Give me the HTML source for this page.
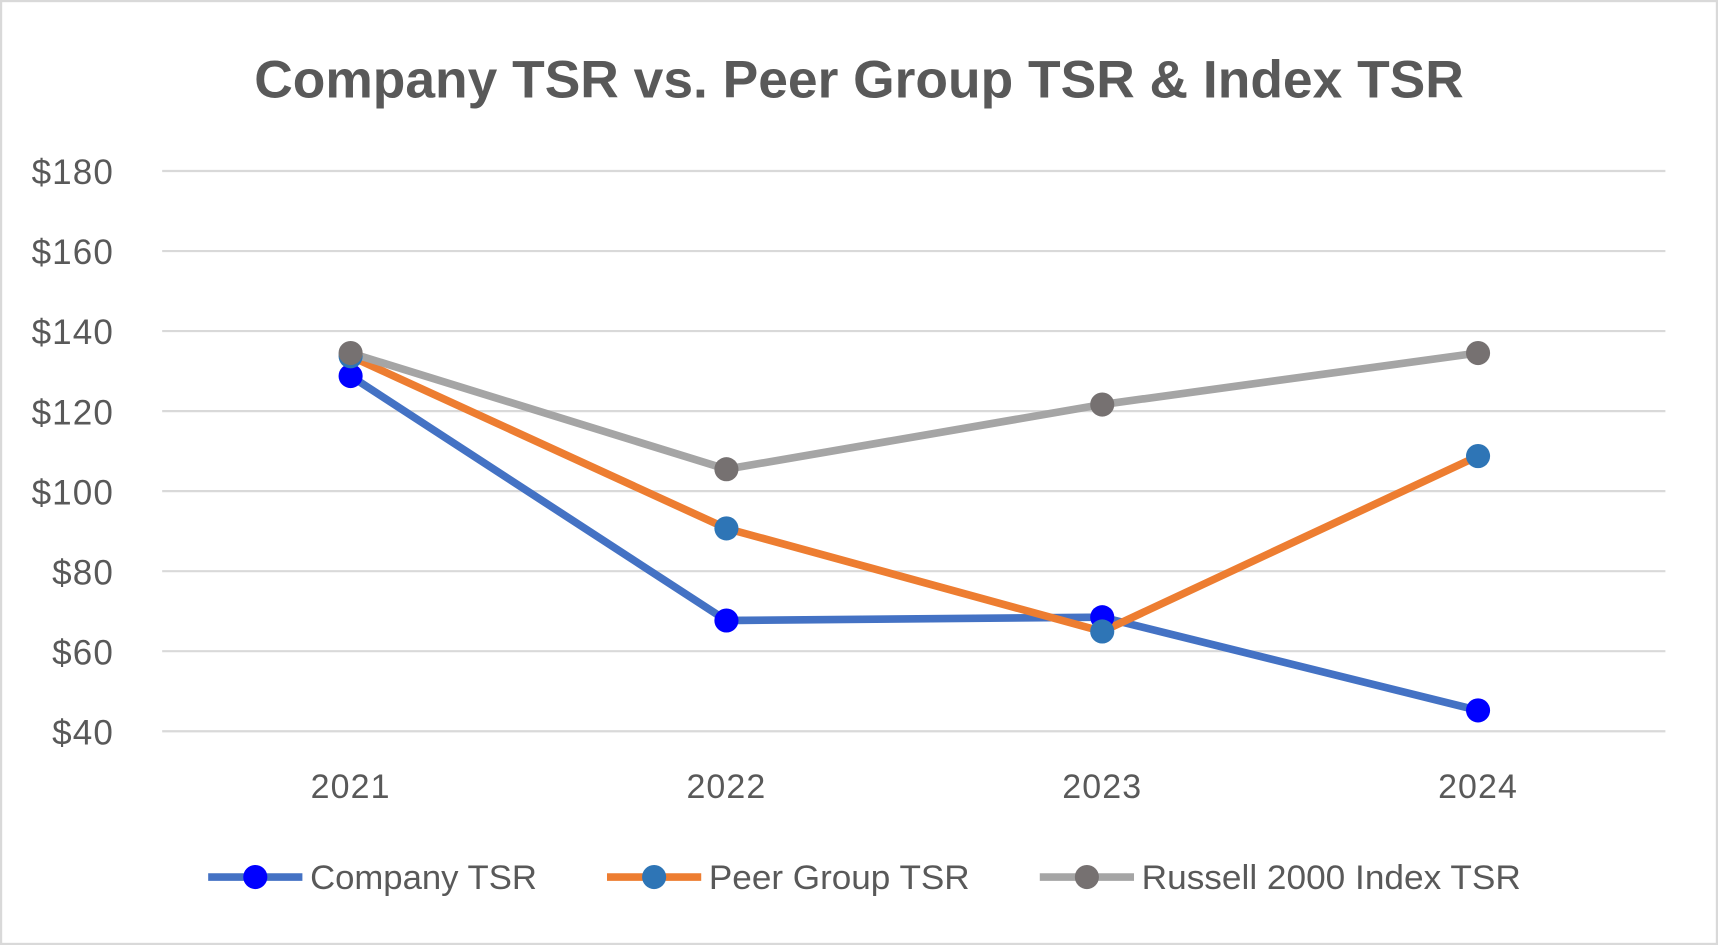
<!DOCTYPE html>
<html><head><style>html,body{margin:0;padding:0;background:#fff;}svg{display:block}</style></head>
<body>
<svg width="1718" height="945" viewBox="0 0 1568 862" preserveAspectRatio="none" font-family="'Liberation Sans', sans-serif">
<rect x="1" y="1" width="1566" height="860" fill="#fff" stroke="#d9d9d9" stroke-width="2"/>
<text x="784" y="89" text-anchor="middle" font-size="48" font-weight="bold" fill="#595959" textLength="1104" lengthAdjust="spacingAndGlyphs">Company TSR vs. Peer Group TSR &amp; Index TSR</text>
<g stroke="#d9d9d9" stroke-width="2">
<line x1="148" x2="1520" y1="156" y2="156"/><line x1="148" x2="1520" y1="229" y2="229"/>
<line x1="148" x2="1520" y1="302" y2="302"/><line x1="148" x2="1520" y1="375" y2="375"/>
<line x1="148" x2="1520" y1="448" y2="448"/><line x1="148" x2="1520" y1="521" y2="521"/>
<line x1="148" x2="1520" y1="594" y2="594"/><line x1="148" x2="1520" y1="667" y2="667"/>
</g>
<g font-size="32" fill="#595959" text-anchor="end" letter-spacing="1">
<text x="104" y="168">$180</text><text x="104" y="241">$160</text><text x="104" y="314">$140</text>
<text x="104" y="387">$120</text><text x="104" y="460">$100</text><text x="104" y="533">$80</text>
<text x="104" y="606">$60</text><text x="104" y="679">$40</text>
</g>
<g font-size="31" fill="#595959" text-anchor="middle" letter-spacing="1">
<text x="320" y="728">2021</text><text x="663" y="728">2022</text><text x="1006" y="728">2023</text><text x="1349" y="728">2024</text>
</g>
<polyline points="320,343 663,566 1006,563 1349,648" fill="none" stroke="#4472c4" stroke-width="7" stroke-linejoin="round"/>
<polyline points="320,325 663,482 1006,576 1349,416" fill="none" stroke="#ed7d31" stroke-width="7" stroke-linejoin="round"/>
<polyline points="320,322 663,428 1006,369 1349,322" fill="none" stroke="#a5a5a5" stroke-width="7" stroke-linejoin="round"/>
<g fill="#0000ff"><circle cx="320" cy="343" r="11"/><circle cx="663" cy="566" r="11"/><circle cx="1006" cy="563" r="11"/><circle cx="1349" cy="648" r="11"/></g>
<g fill="#2e75b6"><circle cx="320" cy="325" r="11"/><circle cx="663" cy="482" r="11"/><circle cx="1006" cy="576" r="11"/><circle cx="1349" cy="416" r="11"/></g>
<g fill="#767171"><circle cx="320" cy="322" r="11"/><circle cx="663" cy="428" r="11"/><circle cx="1006" cy="369" r="11"/><circle cx="1349" cy="322" r="11"/></g>
<g font-size="31" fill="#595959">
<line x1="190" x2="276" y1="800" y2="800" stroke="#4472c4" stroke-width="7"/><circle cx="233" cy="800" r="11" fill="#0000ff"/>
<text x="283" y="811" textLength="207" lengthAdjust="spacingAndGlyphs">Company TSR</text>
<line x1="554" x2="640" y1="800" y2="800" stroke="#ed7d31" stroke-width="7"/><circle cx="597" cy="800" r="11" fill="#2e75b6"/>
<text x="647" y="811" textLength="238" lengthAdjust="spacingAndGlyphs">Peer Group TSR</text>
<line x1="949" x2="1035" y1="800" y2="800" stroke="#a5a5a5" stroke-width="7"/><circle cx="992" cy="800" r="11" fill="#767171"/>
<text x="1042" y="811" textLength="346" lengthAdjust="spacingAndGlyphs">Russell 2000 Index TSR</text>
</g>
</svg>
</body></html>
